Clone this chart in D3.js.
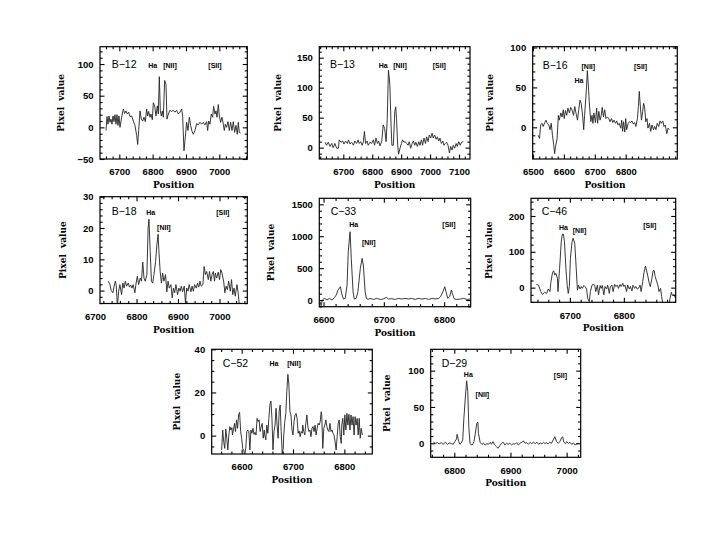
<!DOCTYPE html>
<html>
<head>
<meta charset="utf-8">
<script src="https://cdn.jsdelivr.net/npm/d3@7"></script>
<style>
body { margin: 0; background: #fff; }
</style>
</head>
<body>
<div id="chart"></div>
<script>
// spectra, [position, pixel value]
const b12 = [[6660,-5],[6663,17],[6666,5],[6669,18],[6672,8],[6675,13],[6678,5],[6681,18],[6684,9],[6687,20],[6690,5],[6693,20],[6696,3],[6699,18],[6702,0],
  [6707,16],[6712,29],[6716,22],[6720,26],[6724,21],[6728,24],[6732,17],[6737,18],[6742,10],[6747,3],[6752,-13],[6755,-27],[6758,-5],
  [6762,26],[6766,13],[6770,10],[6774,16],[6778,9],[6782,29],[6785,18],[6788,25],[6792,16],[6795,21],[6799,12],[6802,39],[6806,34],[6810,18],[6814,34],[6817,21],[6820,80],[6823,26],[6826,18],[6829,26],[6832,16],[6836,74],[6840,68],[6843,13],[6847,21],
  [6852,27],[6857,25],[6862,27],[6867,24],[6872,27],[6877,21],[6882,24],[6887,29],
  [6890,18],[6894,-37],[6897,-21],[6902,8],[6906,-5],[6910,16],[6914,3],[6918,-6],[6922,-11],[6927,-5],
  [6932,6],[6937,4],[6942,8],[6947,5],[6952,8],[6957,4],[6962,9],
  [6965,-5],[6968,10],[6972,5],[6976,21],[6980,16],[6983,33],[6987,21],[6990,26],[6993,16],[6997,36],[7000,18],[7004,8],[7008,16],[7012,5],[7015,-5],[7018,5],[7022,0],[7026,9],[7030,-5],[7034,8],[7038,-5],[7042,9],[7046,-8],[7050,3],[7054,-11],[7057,8],[7060,-8],[7064,-9]];

const b13 = [[6637,9],[6642,4],[6648,9],[6654,2],[6660,7],[6665,0],[6671,7],[6677,-1],[6683,-1],
  [6686,13],[6692,9],[6698,11],[6702,6],[6708,11],[6714,7],[6718,13],[6723,6],[6729,9],[6735,4],[6740,11],[6746,7],[6751,13],[6755,7],[6760,10],[6765,4],[6769,9],[6773,27],[6777,7],[6782,11],[6786,4],[6792,9],[6798,7],[6804,13],[6808,4],[6813,16],[6818,7],[6822,11],[6827,3],[6833,11],
  [6838,38],[6843,32],[6848,10],[6852,49],[6856,129],[6859,116],[6861,104],[6865,38],[6868,4],[6873,4],[6878,60],[6881,68],[6884,49],[6888,4],[6891,-11],[6896,-1],
  [6901,7],[6905,13],[6910,9],[6914,10],[6919,7],[6924,4],[6928,10],[6933,-1],[6938,7],[6942,11],[6947,4],[6951,9],[6956,2],[6961,10],[6965,4],[6970,13],[6974,4],[6979,16],[6984,7],[6988,18],[6993,10],[6997,21],[7002,16],[7007,24],[7011,16],[7016,21],[7021,14],[7025,18],[7030,11],[7034,16],[7039,7],[7044,11],[7048,4],[7053,7],[7057,9],[7062,4],[7067,-9],[7071,2],[7076,-4],[7080,4],[7085,-1],[7090,7],[7094,2],[7099,10],[7104,4],
  [7109,9],[7115,10]];

const b16 = [[6517,-10],[6521,-14],[6525,3],[6529,5],[6533,1],[6538,6],[6542,9],[6546,5],[6551,3],[6555,-3],[6559,5],[6563,-10],[6567,-22],[6570,-33],[6573,-24],[6578,-14],[6582,15],[6585,9],[6590,18],[6594,13],[6598,22],[6601,11],[6605,21],[6609,15],[6613,24],[6618,18],[6622,25],[6626,22],[6631,15],[6635,26],[6639,18],[6644,9],[6648,22],[6652,34],[6656,30],[6661,13],[6664,-3],[6667,15],[6672,43],[6676,71],[6679,53],[6682,32],[6687,7],[6691,15],[6694,5],[6697,18],[6702,6],[6706,24],[6709,5],[6713,20],[6717,9],[6721,15],[6724,25],[6728,13],[6732,22],[6736,11],[6741,13],[6745,11],[6749,7],[6754,11],[6758,6],[6762,9],[6767,5],[6771,8],[6775,3],[6779,5],[6784,-1],[6787,9],[6790,-5],[6793,7],[6797,-6],[6800,11],[6803,-3],[6808,5],[6812,7],[6816,6],[6820,8],[6825,4],[6829,6],[6833,1],[6838,11],[6841,26],[6844,45],[6847,28],[6851,9],[6855,20],[6858,30],[6861,26],[6865,7],[6869,11],[6872,-1],[6877,5],[6881,-5],[6885,3],[6890,-3],[6894,1],[6898,-3],[6902,5],[6907,1],[6911,8],[6915,5],[6920,8],[6924,1],[6928,3],[6933,-8],[6937,-1],[6941,-3]];

const b18 = [[6732,3],[6736,1.9],[6739,0],[6743,-0.7],[6746,1.4],[6749,3],[6751,1.9],[6754,-5],[6757,-0.2],[6760,1.9],[6764,-1.3],[6767,2.4],[6770,0.8],[6773,3],[6776,1.4],[6780,2.4],[6783,1.1],[6786,1.7],[6789,0.8],[6792,1.9],[6796,-0.7],[6799,2.4],[6802,4.6],[6805,1.9],[6809,4],[6812,3],[6815,9.1],[6818,4],[6821,3],[6825,5.1],[6828,20],[6830,22.8],[6833,12.5],[6836,3],[6839,2.4],[6842,5.1],[6846,9.3],[6849,14.6],[6852,18],[6854,12.5],[6857,6.1],[6860,2.4],[6863,5.6],[6866,3],[6870,5.1],[6873,-0.4],[6876,3],[6879,0.8],[6883,1.9],[6886,-2.3],[6889,0.8],[6892,-0.7],[6895,1.9],[6899,-1.3],[6902,0.8],[6905,-0.2],[6908,1.4],[6911,-0.4],[6915,1.4],[6918,-3.9],[6921,0.8],[6924,-0.2],[6927,1.9],[6931,-0.4],[6934,1.4],[6937,-0.2],[6940,1.9],[6944,0.8],[6947,2.4],[6950,1.1],[6953,3],[6956,1.4],[6960,1.9],[6963,7.7],[6966,5.1],[6969,6.1],[6973,3.5],[6976,6.1],[6979,3],[6982,5.1],[6985,6.1],[6988,3],[6990,5.6],[6993,4],[6997,5.9],[7000,3.5],[7003,6.7],[7006,5.6],[7010,3],[7013,-0.7],[7016,1.4],[7019,0.3],[7022,3],[7026,-0.2],[7029,3.5],[7032,-1.3],[7035,0.8],[7038,-1.8],[7042,1.9],[7045,-0.7],[7048,-5]];

const c33 = [[6594.5,-26],[6596,-89],[6598,0],[6601,26],[6606,5],[6610,26],[6614,0],[6618,37],[6621,78],[6624,157],[6628,209],[6630,105],[6633,16],[6636,26],[6639,235],[6641,758],[6644,1071],[6646,653],[6649,131],[6651,16],[6654,26],[6657,131],[6661,496],[6664,653],[6666,549],[6669,131],[6671,26],[6674,10],[6677,26],[6683,10],[6688,26],[6694,10],[6699,16],[6704,42],[6708,16],[6713,21],[6719,10],[6724,26],[6730,16],[6735,26],[6741,16],[6746,26],[6752,10],[6757,26],[6763,16],[6769,26],[6774,10],[6780,26],[6785,16],[6791,26],[6794,52],[6798,131],[6801,209],[6803,131],[6806,26],[6809,52],[6812,157],[6814,89],[6817,16],[6821,10],[6827,16],[6832,26],[6838,10],[6843,16]];

const c46 = [[6638,9],[6642,7],[6646,-11],[6649,-19],[6653,-13],[6657,-16],[6660,-4],[6663,-11],[6665,17],[6668,43],[6670,47],[6672,35],[6674,40],[6677,26],[6678,-11],[6681,54],[6684,128],[6686,149],[6688,149],[6690,128],[6693,45],[6695,7],[6697,-16],[6699,3],[6701,82],[6704,128],[6706,138],[6709,124],[6711,73],[6714,-7],[6716,7],[6719,-4],[6721,3],[6723,-2],[6726,6],[6728,3],[6731,-4],[6733,-30],[6736,-39],[6738,-11],[6741,7],[6743,9],[6746,7],[6748,-11],[6751,7],[6753,-20],[6756,6],[6758,-2],[6760,6],[6763,-20],[6765,3],[6768,-4],[6770,7],[6773,-16],[6775,3],[6778,7],[6780,-11],[6783,9],[6785,3],[6788,7],[6790,-2],[6793,9],[6795,3],[6798,12],[6800,3],[6802,7],[6805,-11],[6807,7],[6810,-4],[6812,3],[6815,-9],[6817,7],[6820,-2],[6822,3],[6825,-4],[6827,-2],[6830,7],[6832,-11],[6835,17],[6837,40],[6840,60],[6842,49],[6844,35],[6847,12],[6849,3],[6852,26],[6854,47],[6856,48],[6858,31],[6860,21],[6863,7],[6865,-11],[6868,-2],[6870,-25],[6873,-53],[6876,-67],[6879,-86],[6882,-77],[6885,-34],[6888,-13],[6890,-22],[6893,-20],[6895,-28]];

const c52 = [[6561,-6.6],[6563,2.6],[6565,-2.8],[6567,-5.9],[6569,3.1],[6571,-1.2],[6573,-6.6],[6575,0.3],[6577,4.2],[6579,2.6],[6581,3.7],[6582,0.3],[6584,2.6],[6586,5.7],[6588,1.9],[6590,7.3],[6592,3.4],[6594,9.6],[6596,10.8],[6598,1.9],[6600,-1.2],[6602,-5.9],[6604,-6.6],[6606,-9],[6608,-5.9],[6610,1.9],[6612,2.6],[6614,1.9],[6616,-6.6],[6618,2.6],[6620,1.1],[6622,3.4],[6624,0.6],[6626,1.5],[6628,0.3],[6630,8],[6632,6.5],[6634,7.3],[6636,1.9],[6638,4.2],[6640,5.7],[6642,-1.2],[6644,2.6],[6645,0.3],[6647,-2],[6649,4.9],[6651,1.1],[6653,8],[6655,14.2],[6657,16],[6659,8],[6661,-6.6],[6663,1.9],[6665,4.9],[6667,12.7],[6669,4.9],[6671,-1.2],[6673,11.1],[6675,14.2],[6677,1.9],[6679,-8.2],[6681,-5.9],[6682,0.3],[6684,6.5],[6686,10.3],[6688,20.4],[6690,28.4],[6692,23.5],[6694,11.1],[6696,9.6],[6698,2.6],[6700,0.3],[6702,6.5],[6704,9.6],[6706,10.3],[6708,8],[6710,1.1],[6712,2.2],[6714,-0.5],[6716,1.9],[6718,1.1],[6719,4.9],[6721,1.9],[6723,0.3],[6725,5.7],[6727,9.6],[6729,4.2],[6731,1.9],[6733,2.6],[6735,-0.5],[6737,3.4],[6739,4.2],[6741,1.9],[6743,4.9],[6745,0.3],[6747,3.4],[6749,5.7],[6751,4.9],[6753,6.5],[6755,11.1],[6756,9.6],[6758,-5.9],[6760,3.4],[6762,4.9],[6764,7.3],[6766,4.2],[6768,2.6],[6770,1.9],[6772,5.7],[6774,1.9],[6776,2.6],[6778,1.1],[6780,0.3],[6782,-2.8],[6784,-6.6],[6786,-0.5],[6788,5.7],[6790,7.3],[6792,-0.5],[6794,-3.6],[6795,4.9],[6797,8],[6799,0.3],[6801,9.6],[6803,2.6],[6805,10.3],[6807,4.9],[6809,9.9],[6811,2.6],[6813,9.6],[6815,4.9],[6817,8.8],[6819,0.3],[6821,8.8],[6823,4.9],[6825,8],[6827,0.3],[6829,8],[6831,-1.2],[6833,3.4],[6835,0.3]];

const d29 = [[6763,1.4],[6766,0],[6770,0.9],[6773,-0.9],[6777,0.9],[6780,-1.4],[6784,1.4],[6788,-1.4],[6791,0.5],[6795,-0.5],[6798,-1.4],[6801,2.3],[6804,6],[6805,12.4],[6808,2.3],[6810,-1.4],[6812,0],[6815,4.6],[6817,34],[6820,66.5],[6822,86],[6824,71],[6826,20.6],[6828,0],[6830,-2.3],[6833,-1.4],[6835,2.3],[6837,11.5],[6840,27.5],[6842,29],[6843,13.8],[6846,1.4],[6849,-1.4],[6852,0],[6855,-2.3],[6858,-0.5],[6861,-1.4],[6864,1.4],[6866,-1.4],[6869,2.3],[6872,-2.3],[6875,-4.6],[6878,-6.9],[6881,-3.2],[6884,0],[6887,1.4],[6890,-2.3],[6893,0],[6896,-1.4],[6899,0],[6902,-2.3],[6905,-0.5],[6908,-1.4],[6911,0.9],[6914,-2.3],[6917,0],[6920,1.4],[6923,3.2],[6926,0],[6929,0.9],[6932,-1.4],[6935,1.4],[6938,-0.9],[6941,1.8],[6944,-0.5],[6947,1.4],[6950,-1.4],[6953,0.5],[6956,-0.9],[6959,1.4],[6961,-0.5],[6964,0.9],[6967,-0.9],[6970,1.4],[6973,0],[6976,4.6],[6979,9.2],[6982,2.3],[6985,0],[6988,2.3],[6991,7.8],[6993,8.7],[6995,1.4],[6998,-0.5],[7000,2.3],[7003,0],[7006,1.4],[7009,-1.4],[7012,0.5],[7015,-2.3],[7018,-0.9],[7021,0]];

// line identifications: [text, position, pixel value]
const b12Lines = [["Ha", 6800, 98], ["[NII]", 6852, 98], ["[SII]", 6987, 98]];
const b13Lines = [["Ha", 6838, 137], ["[NII]", 6896, 137], ["[SII]", 7032, 137]];
const b16Lines = [["Ha", 6649, 59], ["[NII]", 6679, 76], ["[SII]", 6848, 76]];
const b18Lines = [["Ha", 6834, 25], ["[NII]", 6866, 20.1], ["[SII]", 7008, 25]];
const c33Lines = [["Ha", 6650, 1176], ["[NII]", 6675, 904], ["[SII]", 6808, 1176]];
const c46Lines = [["Ha", 6688, 168], ["[NII]", 6718, 158], ["[SII]", 6848, 173]];
const c52Lines = [["Ha", 6663, 33.5], ["[NII]", 6702, 33.5]];
const d29Lines = [["Ha", 6825, 94], ["[NII]", 6850, 67.4], ["[SII]", 6989, 93]];

// tick labels
const b12XTicks = [6700, 6800, 6900, 7000], b12YTicks = [-50, 0, 50, 100];
const b13XTicks = [6700, 6800, 6900, 7000, 7100], b13YTicks = [0, 50, 100, 150];
const b16XTicks = [6500, 6600, 6700, 6800], b16YTicks = [0, 50, 100];
const b18XTicks = [6700, 6800, 6900, 7000], b18YTicks = [0, 10, 20, 30];
const c33XTicks = [6600, 6700, 6800], c33YTicks = [0, 500, 1000, 1500];
const c46XTicks = [6700, 6800], c46YTicks = [0, 100, 200];
const c52XTicks = [6600, 6700, 6800], c52YTicks = [0, 20, 40];
const d29XTicks = [6800, 6900, 7000], d29YTicks = [0, 50, 100];

const names = ["B−12", "B−13", "B−16", "B−18", "C−33", "C−46", "C−52", "D−29"];

// layout: box = [left, top, right, bottom] in px
const panels = [
  { data: b12, lines: b12Lines, xt: b12XTicks, yt: b12YTicks, xDom: [6642, 7084], yDom: [-50, 127.4], xMinor: 20, yMinor: 10, box: [100, 46.7, 247.3, 159], name: [11.7, 21.6], yTitle: 39 },
  { data: b13, lines: b13Lines, xt: b13XTicks, yt: b13YTicks, xDom: [6617, 7138], yDom: [-18.9, 168.3], xMinor: 20, yMinor: 10, box: [319.3, 46.7, 470, 159], name: [10.7, 21.6], yTitle: 41 },
  { data: b16, lines: b16Lines, xt: b16XTicks, yt: b16YTicks, xDom: [6499, 6967], yDom: [-39.7, 101], xMinor: 20, yMinor: 10, box: [532.7, 46.7, 677.3, 159], name: [10, 22], yTitle: 42.7 },
  { data: b18, lines: b18Lines, xt: b18XTicks, yt: b18YTicks, xDom: [6712, 7067], yDom: [-4.13, 30], xMinor: 20, yMinor: 2, box: [100, 196.7, 247.3, 303.5], name: [11.7, 18.3], yTitle: 36.7 },
  { data: c33, lines: c33Lines, xt: c33XTicks, yt: c33YTicks, xDom: [6593, 6844], yDom: [-104, 1594], xMinor: 20, yMinor: 100, box: [319.3, 198.3, 470.7, 306.7], name: [11.4, 16.7], yTitle: 48.6 },
  { data: c46, lines: c46Lines, xt: c46XTicks, yt: c46YTicks, xDom: [6628, 6896], yDom: [-40.9, 249.3], xMinor: 20, yMinor: 20, box: [531, 198.3, 675.7, 302.3], name: [10.7, 16.7], yTitle: 41.7 },
  { data: c52, lines: c52Lines, xt: c52XTicks, yt: c52YTicks, xDom: [6541.6, 6854.5], yDom: [-8.5, 40], xMinor: 20, yMinor: 5, box: [211.7, 349.3, 372.3, 454], name: [11, 18], yTitle: 35 },
  { data: d29, lines: d29Lines, xt: d29XTicks, yt: d29YTicks, xDom: [6758, 7025], yDom: [-19.3, 129.4], xMinor: 20, yMinor: 10, box: [430.7, 349.3, 580.7, 457.3], name: [11, 18], yTitle: 44 }
];

const width = 708, height = 547;
const svg = d3.select("#chart").append("svg")
    .attr("width", width)
    .attr("height", height);

svg.append("rect").attr("width", width).attr("height", height).attr("fill", "#fff");

function inDomain(dom) {
    return v => v >= Math.min(...dom) - 1e-6 && v <= Math.max(...dom) + 1e-6;
}

function tickRange(dom, step) {
    const lo = Math.ceil(dom[0] / step) * step;
    return d3.range(lo, dom[1] + 1e-6, step);
}

// inward tick marks on one side
function drawTicks(g, axisFn, scale, values, len, transform) {
    g.append("g")
        .attr("transform", transform)
        .call(axisFn(scale).tickValues(values).tickSize(-len).tickSizeOuter(0).tickFormat(""))
        .call(a => a.select(".domain").remove())
        .selectAll("line").attr("stroke", "#000").attr("stroke-width", 1.1);
}

panels.forEach((p, i) => {
    const [x0, y0, x1, y1] = p.box;
    const x = d3.scaleLinear().domain(p.xDom).range([x0, x1]);
    const y = d3.scaleLinear().domain(p.yDom).range([y1, y0]);
    const g = svg.append("g");

    g.append("clipPath").attr("id", "clip" + i)
      .append("rect").attr("x", x0).attr("y", y0).attr("width", x1 - x0).attr("height", y1 - y0);

    g.append("path")
        .datum(p.data)
        .attr("clip-path", `url(#clip${i})`)
        .attr("fill", "none")
        .attr("stroke", "#222")
        .attr("stroke-width", 0.9)
        .attr("stroke-linejoin", "round")
        .attr("d", d3.line().x(d => x(d[0])).y(d => y(d[1])));

    // frame
    g.append("rect")
        .attr("x", x0).attr("y", y0)
        .attr("width", x1 - x0).attr("height", y1 - y0)
        .attr("fill", "none").attr("stroke", "#000").attr("stroke-width", 1.2);

    const xMaj = p.xt.filter(inDomain(p.xDom));
    const yMaj = p.yt.filter(inDomain(p.yDom));
    const xMin = tickRange(p.xDom, p.xMinor).filter(v => !xMaj.includes(v));
    const yMin = tickRange(p.yDom, p.yMinor).filter(v => !yMaj.includes(v));

    [[xMaj, 4.5], [xMin, 2.6]].forEach(([vals, len]) => {
        drawTicks(g, d3.axisBottom, x, vals, len, `translate(0,${y1})`);
        drawTicks(g, d3.axisTop, x, vals, len, `translate(0,${y0})`);
    });
    [[yMaj, 4.5], [yMin, 2.6]].forEach(([vals, len]) => {
        drawTicks(g, d3.axisLeft, y, vals, len, `translate(${x0},0)`);
        drawTicks(g, d3.axisRight, y, vals, len, `translate(${x1},0)`);
    });

    // tick labels (an x label may sit just outside the frame, as in B-18)
    g.append("g")
        .attr("transform", `translate(0,${y1})`)
        .call(d3.axisBottom(x).tickValues(p.xt).tickSize(0).tickPadding(9.5).tickFormat(d3.format("d")))
        .call(a => a.select(".domain").remove())
        .selectAll("text")
        .attr("font-family", "Liberation Sans, Arial, sans-serif")
        .attr("font-weight", "bold")
        .attr("font-size", 9.5)
        .attr("fill", "#000");

    g.append("g")
        .attr("transform", `translate(${x0},0)`)
        .call(d3.axisLeft(y).tickValues(p.yt).tickSize(0).tickPadding(6.5).tickFormat(d3.format("d")))
        .call(a => a.select(".domain").remove())
        .selectAll("text")
        .attr("font-family", "Liberation Sans, Arial, sans-serif")
        .attr("font-weight", "bold")
        .attr("font-size", 9.5)
        .attr("fill", "#000");

    // axis titles
    g.append("text")
        .attr("x", (x0 + x1) / 2)
        .attr("y", y1 + 29)
        .attr("text-anchor", "middle")
        .attr("font-family", "DejaVu Serif, serif")
        .attr("font-weight", "bold")
        .attr("font-size", 9)
        .text("Position");

    const cy = (y0 + y1) / 2;
    g.append("text")
        .attr("transform", `translate(${x0 - p.yTitle},${cy}) rotate(-90)`)
        .attr("text-anchor", "middle")
        .attr("dy", "0.35em")
        .attr("font-family", "DejaVu Serif, serif")
        .attr("font-weight", "bold")
        .attr("font-size", 9)
        .attr("word-spacing", 3)
        .text("Pixel value");

    // object name
    g.append("text")
        .attr("x", x0 + p.name[0])
        .attr("y", y0 + p.name[1])
        .attr("font-family", "Liberation Sans, Arial, sans-serif")
        .attr("font-size", 10.5)
        .text(names[i]);

    // emission line labels
    g.selectAll(".line-label")
        .data(p.lines)
        .join("text")
        .attr("class", "line-label")
        .attr("x", d => x(d[1]))
        .attr("y", d => y(d[2]))
        .attr("dy", "0.35em")
        .attr("text-anchor", "middle")
        .attr("font-family", "Liberation Sans, Arial, sans-serif")
        .attr("font-weight", "bold")
        .attr("font-size", 7)
        .attr("fill", "#000")
        .text(d => d[0]);
});
</script>
</body>
</html>
